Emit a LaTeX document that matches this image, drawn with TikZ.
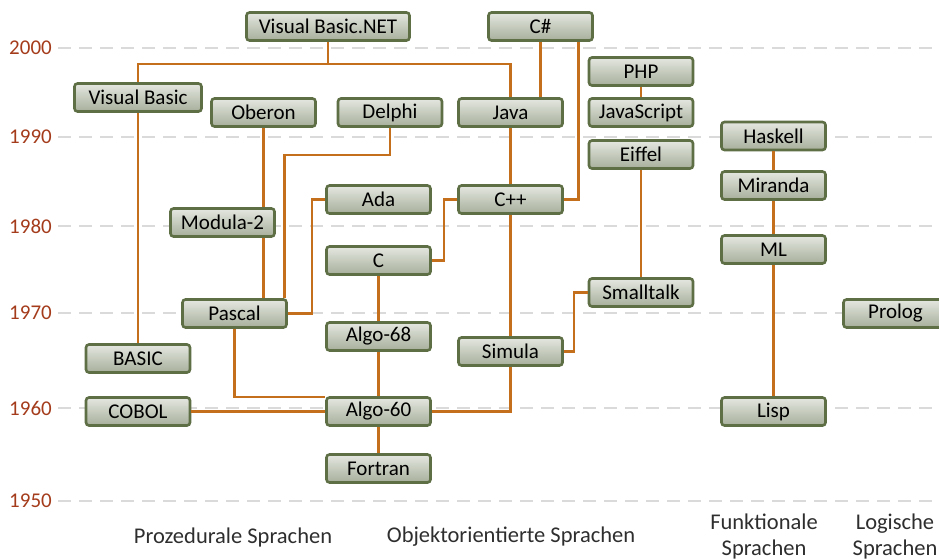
\documentclass[tikz,border=0pt]{standalone}
\usepackage{fontspec}
\setmainfont{Carlito}
\definecolor{linkColor}{HTML}{C46F1C}
\definecolor{boxBorder}{HTML}{5E6E45}
\definecolor{boxTop}{HTML}{E4E7E0}
\definecolor{boxBottom}{HTML}{A7AF9B}
\definecolor{yearColor}{HTML}{A43C1C}
\definecolor{gridColor}{HTML}{DADADA}
\definecolor{catColor}{HTML}{2E2E2E}

\begin{document}
\begin{tikzpicture}[x = 1pt, y = -1pt, font = \fontsize{21}{25}\selectfont]
	\tikzstyle{langStyle}=[draw = boxBorder, line width = 2.6pt, rounded corners = 3pt, top color = boxTop, bottom color = boxBottom, minimum width = 104pt, minimum height = 28pt, inner sep = 0pt, text = black]
	\tikzstyle{linkStyle}=[draw = linkColor, line width = 2.4pt]
	\tikzstyle{gridStyle}=[draw = gridColor, line width = 2.6pt, dash pattern = on 13pt off 8pt]
	\tikzstyle{catStyle}=[text = catColor, align = center, inner sep = 0pt, font = \fontsize{22.5}{26}\selectfont]
	\useasboundingbox (0,0) rectangle (939,559);
	% time axis
	\foreach \year/\y in {2000/48, 1990/137, 1980/226, 1970/313, 1960/408, 1950/501}{
		\draw[gridStyle] (58,\y) -- (939,\y);
		\node[anchor = east, text = yearColor, inner sep = 0pt] (year\year) at (52,\y) {\year};
	}
	% languages
	\node[langStyle, minimum width = 163pt] (vbnet) at (328.0, 26.5) {Visual Basic.NET};
	\node[langStyle] (csharp) at (540.5, 26.5) {C\#};
	\node[langStyle, minimum width = 127pt] (vb) at (138.0, 97.5) {Visual Basic};
	\node[langStyle] (oberon) at (263.5, 112.5) {Oberon};
	\node[langStyle] (delphi) at (390.0, 112.5) {Delphi};
	\node[langStyle] (java) at (510.5, 112.5) {Java};
	\node[langStyle] (php) at (641.0, 71.5) {PHP};
	\node[langStyle] (js) at (641.0, 112.5) {JavaScript};
	\node[langStyle] (eiffel) at (641.0, 154.5) {Eiffel};
	\node[langStyle] (haskell) at (773.5, 136.0) {Haskell};
	\node[langStyle] (miranda) at (773.5, 185.5) {Miranda};
	\node[langStyle] (ml) at (773.5, 249.5) {ML};
	\node[langStyle] (ada) at (378.5, 199.5) {Ada};
	\node[langStyle] (cpp) at (510.5, 199.5) {C++};
	\node[langStyle] (modula) at (222.5, 222.5) {Modula-2};
	\node[langStyle] (c) at (378.5, 260.5) {C};
	\node[langStyle] (smalltalk) at (641.0, 292.5) {Smalltalk};
	\node[langStyle] (pascal) at (234.5, 313.5) {Pascal};
	\node[langStyle] (prolog) at (895.5, 313.5) {Prolog};
	\node[langStyle] (algo68) at (378.5, 336.5) {Algo-68};
	\node[langStyle] (simula) at (510.5, 351.5) {Simula};
	\node[langStyle] (basic) at (138.0, 358.5) {BASIC};
	\node[langStyle] (cobol) at (138.0, 411.5) {COBOL};
	\node[langStyle] (algo60) at (378.5, 411.5) {Algo-60};
	\node[langStyle] (lisp) at (773.5, 411.5) {Lisp};
	\node[langStyle] (fortran) at (378.5, 468.5) {Fortran};
	% links
	\draw[linkStyle] (vbnet.south) -- ++(0,22) coordinate (netjoin);
	\draw[linkStyle] (netjoin) -| (vb.north);
	\draw[linkStyle] (netjoin) -| (java.north);
	\draw[linkStyle] (vb.south) -- (basic.north);
	\draw[linkStyle] (csharp.south) -- (csharp.south |- java.north);
	\draw[linkStyle] ([xshift = 38pt]csharp.south) |- (cpp.east);
	\draw[linkStyle] (oberon.south) -- (oberon.south |- modula.north);
	\draw[linkStyle] (oberon.south |- modula.south) -- (oberon.south |- pascal.north);
	\draw[linkStyle] (delphi.south) -- ++(0,27) -| ([xshift = 50pt]pascal.north);
	\draw[linkStyle] (ada.west) -- ++(-13,0) |- (pascal.east);
	\draw[linkStyle] (cpp.west) -- ++(-13,0) |- (c.east);
	\draw[linkStyle] (java.south) -- (cpp.north);
	\draw[linkStyle] (cpp.south) -- (simula.north);
	\draw[linkStyle] (c.south) -- (algo68.north);
	\draw[linkStyle] (algo68.south) -- (algo60.north);
	\draw[linkStyle] (algo60.south) -- (fortran.north);
	\draw[linkStyle] (simula.south) |- (algo60.east);
	\draw[linkStyle] (simula.east) -- ++(10,0) |- (smalltalk.west);
	\draw[linkStyle] (php.south) -- (js.north);
	\draw[linkStyle] (eiffel.south) -- (smalltalk.north);
	\draw[linkStyle] (haskell.south) -- (miranda.north);
	\draw[linkStyle] (miranda.south) -- (ml.north);
	\draw[linkStyle] (ml.south) -- (lisp.north);
	\draw[linkStyle] (pascal.south) |- ([yshift = -1pt]algo60.north west);
	\draw[linkStyle] (cobol.east) -- (algo60.west);
	% categories
	\node[catStyle] (procedural) at (233, 537) {Prozedurale Sprachen};
	\node[catStyle] (objoriented) at (511, 537) {Objektorientierte Sprachen};
	\node[catStyle] (functional) at (764, 536) {Funktionale\\Sprachen};
	\node[catStyle] (logical) at (895, 536) {Logische\\Sprachen};
\end{tikzpicture}
\end{document}
